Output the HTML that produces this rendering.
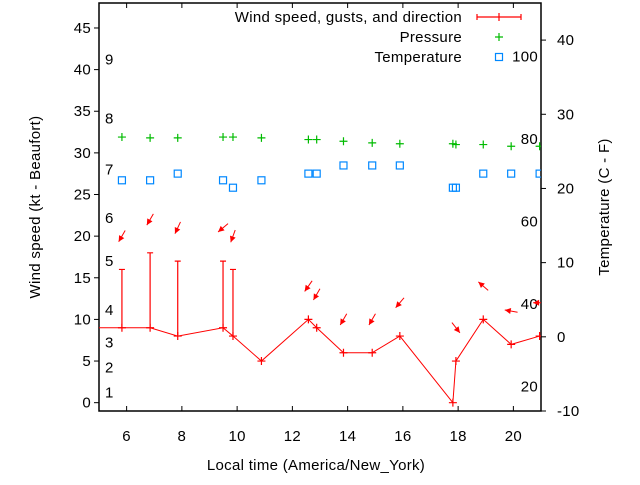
<!DOCTYPE html>
<html><head><meta charset="utf-8"><style>
body{margin:0;background:#fff}
svg{font-family:"Liberation Sans",sans-serif;font-size:15px;letter-spacing:0.3px}
</style></head><body>
<svg id="c" width="640" height="480" xmlns="http://www.w3.org/2000/svg"></svg>
<script>
const times=[5.83,6.85,7.85,9.49,9.85,10.88,12.58,12.88,13.85,14.89,15.89,17.81,17.92,18.91,19.92,20.95];
const speeds=[9,9,8,9,8,5,10,9,6,6,8,0,5,10,7,8];
const gusts=[16,18,17,17,16,null,null,null,null,null,null,null,null,null,null,null];
const windDirs=[30,30,25,50,20,null,35,30,30,30,40,null,322,131,100,90];
const pressures=[31.9,31.8,31.8,31.9,31.9,31.8,31.6,31.6,31.4,31.2,31.1,31.1,31.0,31.0,30.8,30.8];
const temps=[21.1,21.1,22.0,21.1,20.1,21.1,22.0,22.0,23.1,23.1,23.1,20.1,20.1,22.0,22.0,22.0];
const xTicks=[6,8,10,12,14,16,18,20];
const yTicks=[0,5,10,15,20,25,30,35,40,45];
const cTicks=[-10,0,10,20,30,40];
const fTicks=[20,40,60,80,100];
const beaufort=[1,2,3,4,5,6,7,8,9];
const beaufortKt=[1.2,4.2,7.2,11.1,17,22.2,28,34.1,41.2];
const L=99,R=541,T=3,B=411;
const X=t=>L+(t-5)/16*(R-L);
const Y=v=>B-(v+1)/49*(B-T);
const YC=c=>B-(c+10)/55*(B-T);
const svg=document.getElementById('c');
const NS='http://www.w3.org/2000/svg';
function mk(tag,attrs,parent){const e=document.createElementNS(NS,tag);for(const k in attrs)e.setAttribute(k,attrs[k]);(parent||svg).appendChild(e);return e;}
function txt(s,x,y,anchor,name){const e=mk('text',{x:x,y:y,'text-anchor':anchor||'start'});e.textContent=s;


return e;}
const defs=mk('defs',{});const cp=mk('clipPath',{id:'clip'},defs);mk('rect',{x:L,y:T,width:R-L,height:B-T},cp);
const fr=mk('rect',{x:L,y:T,width:R-L,height:B-T,fill:'none',stroke:'#000','stroke-width':1.5});


xTicks.forEach(t=>{mk('line',{x1:X(t),x2:X(t),y1:B,y2:B-5,stroke:'#000'});mk('line',{x1:X(t),x2:X(t),y1:T,y2:T+5,stroke:'#000'});txt(String(t),X(t),441,'middle','x-tick-label');});
yTicks.forEach(v=>{mk('line',{x1:L,x2:L-5,y1:Y(v),y2:Y(v),stroke:'#000'});txt(String(v),91,Y(v)+5,'end','y-tick-label');});
cTicks.forEach(c=>{mk('line',{x1:R,x2:R+5,y1:YC(c),y2:YC(c),stroke:'#000'});txt(String(c),557,YC(c)+5,'start','temp-c-tick-label');});
fTicks.forEach(f=>{txt(String(f),538,YC((f-32)*5/9)+5,'end','temp-f-label');});
beaufort.forEach((b,i)=>{txt(String(b),105,Y(beaufortKt[i])+5,'start','beaufort-label');});
txt('Local time (America/New_York)',316,470,'middle','x-axis-title');
let a=txt('Wind speed (kt - Beaufort)',0,0,'middle','y-axis-title');a.setAttribute('transform','translate(40,207) rotate(-90)');
a=txt('Temperature (C - F)',0,0,'middle','y2-axis-title');a.setAttribute('transform','translate(609,207) rotate(-90)');
const g=mk('g',{'clip-path':'url(#clip)'});
let pts=[[X(4.8),Y(speeds[0])]].concat(times.map((t,i)=>[X(t),Y(speeds[i])]));
const pl=mk('polyline',{points:pts.map(p=>p.join(',')).join(' '),fill:'none',stroke:'#f00','stroke-width':1},g);


times.forEach((t,i)=>{
 const x=X(t),y=Y(speeds[i]);
 const m=mk('path',{d:`M${x-4},${y}h8M${x},${y-4}v8`,stroke:'#f00','stroke-width':1.2},g);
 
 
 if(gusts[i]!=null){const gy=Y(gusts[i]);
  const e=mk('path',{d:`M${x},${y}V${gy}M${x-3},${gy}h6`,stroke:'#f00','stroke-width':1.2},g);
  
  }
 if(windDirs[i]!=null){
  const top=Math.max(speeds[i],gusts[i]||0)+4;const cy=Y(top);
  const th=windDirs[i]*Math.PI/180;const dx=-Math.sin(th),dy=Math.cos(th);const h=6.5;
  const hx=x+dx*h,hy=cy+dy*h,tx=x-dx*h,ty=cy-dy*h;
  const px=-dy,py=dx;
  const ar=mk('g',{},g);
  
  
  mk('line',{x1:tx,y1:ty,x2:hx,y2:hy,stroke:'#f00','stroke-width':1},ar);
  mk('polygon',{points:`${hx},${hy} ${hx-dx*6+px*3},${hy-dy*6+py*3} ${hx-dx*6-px*3},${hy-dy*6-py*3}`,fill:'#f00'},ar);
 }
 const p=mk('path',{d:`M${x-4},${Y(pressures[i])}h8M${x},${Y(pressures[i])-4}v8`,stroke:'#0b0','stroke-width':1.2},g);
 
 
 const s=mk('rect',{x:x-3.5,y:YC(temps[i])-3.5,width:7,height:7,fill:'none',stroke:'#08f','stroke-width':1.2},g);
 
 
});
txt('Wind speed, gusts, and direction',462,22,'end','legend-wind-label');
txt('Pressure',462,42,'end','legend-pressure-label');
txt('Temperature',462,62,'end','legend-temperature-label');
const lg=mk('path',{d:'M477,17h44M477,14v6M521,14v6M499,13v8',stroke:'#f00','stroke-width':1.2});


const lp=mk('path',{d:'M495,37h8M499,33v8',stroke:'#0b0','stroke-width':1.2});


const ls=mk('rect',{x:495.5,y:53.5,width:7,height:7,fill:'none',stroke:'#08f','stroke-width':1.2});


</script>
</body></html>
